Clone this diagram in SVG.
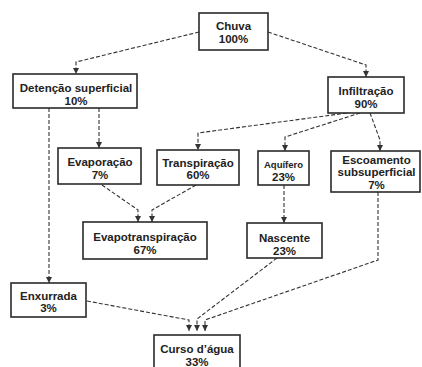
<svg xmlns="http://www.w3.org/2000/svg" width="422" height="367" viewBox="0 0 422 367">
<style>
.box{fill:#ffffff;stroke:#2a2a2a;stroke-width:1.6}
.t{font-family:"Liberation Sans",Arial,sans-serif;font-weight:bold;font-size:11.5px;fill:#222;text-anchor:middle}
.s{font-size:9.5px}
.c{fill:none;stroke:#333;stroke-width:1.1;stroke-dasharray:4 2}
</style>
<defs>
<marker id="ah" markerUnits="userSpaceOnUse" markerWidth="6" markerHeight="7" refX="6" refY="3" orient="auto" viewBox="0 0 6 6">
<path d="M0,0 L6,3 L0,6 z" fill="#333"/>
</marker>
</defs>
<rect x="0" y="0" width="422" height="367" fill="#ffffff"/>
<g id="connectors">
<polyline class="c" points="199,32 76,62 76,74" marker-end="url(#ah)"/>
<polyline class="c" points="268,32 366,65 366,77" marker-end="url(#ah)"/>
<polyline class="c" points="99,108 99,148" marker-end="url(#ah)"/>
<polyline class="c" points="49,108 49,283" marker-end="url(#ah)"/>
<polyline class="c" points="347,113 198,133 198,150" marker-end="url(#ah)"/>
<polyline class="c" points="360,113 285,137 285,151" marker-end="url(#ah)"/>
<polyline class="c" points="370,113 380,140 380,151" marker-end="url(#ah)"/>
<polyline class="c" points="102,185 138,210 138,222" marker-end="url(#ah)"/>
<polyline class="c" points="196,185 152,210 152,222" marker-end="url(#ah)"/>
<polyline class="c" points="284,185 284,223" marker-end="url(#ah)"/>
<polyline class="c" points="87,301 189,320 189,331" marker-end="url(#ah)"/>
<polyline class="c" points="277,258 197,319 197,331" marker-end="url(#ah)"/>
<polyline class="c" points="378,192 378,260 205,320 205,331" marker-end="url(#ah)"/>
</g>
<g id="chuva"><rect class="box" x="199" y="13" width="69" height="37"/><text class="t" x="233.5" y="29.5">Chuva</text><text class="t" x="233.5" y="42.5">100%</text></g>
<g id="detencao"><rect class="box" x="13" y="74" width="124" height="34"/><text class="t" x="76" y="92">Detenção superficial</text><text class="t" x="76" y="104.5">10%</text></g>
<g id="infiltracao"><rect class="box" x="328" y="77" width="76" height="36"/><text class="t" x="366" y="95">Infiltração</text><text class="t" x="366" y="107.5">90%</text></g>
<g id="evaporacao"><rect class="box" x="58" y="148" width="83" height="36"/><text class="t" x="100" y="166">Evaporação</text><text class="t" x="100" y="178.5">7%</text></g>
<g id="transpiracao"><rect class="box" x="157" y="150" width="82" height="35"/><text class="t" x="198" y="166.5">Transpiração</text><text class="t" x="198" y="179">60%</text></g>
<g id="aquifero"><rect class="box" x="258" y="151" width="51" height="34"/><text class="t s" x="283.5" y="168">Aquífero</text><text class="t" x="283.5" y="181">23%</text></g>
<g id="escoamento"><rect class="box" x="331" y="151" width="89" height="41"/><text class="t" x="376.5" y="163.5">Escoamento</text><text class="t" x="376.5" y="176">subsuperficial</text><text class="t" x="376.5" y="188.5">7%</text></g>
<g id="evapotranspiracao"><rect class="box" x="83" y="222" width="124" height="37"/><text class="t" x="145" y="241">Evapotranspiração</text><text class="t" x="145" y="253.5">67%</text></g>
<g id="nascente"><rect class="box" x="247" y="223" width="75" height="35"/><text class="t" x="284.5" y="242">Nascente</text><text class="t" x="284.5" y="254.5">23%</text></g>
<g id="enxurrada"><rect class="box" x="11" y="283" width="75" height="34"/><text class="t" x="48.5" y="299.5">Enxurrada</text><text class="t" x="48.5" y="312">3%</text></g>
<g id="curso"><rect class="box" x="154" y="335" width="86" height="40"/><text class="t" x="197" y="353">Curso d’água</text><text class="t" x="197" y="365.5">33%</text></g>
</svg>
